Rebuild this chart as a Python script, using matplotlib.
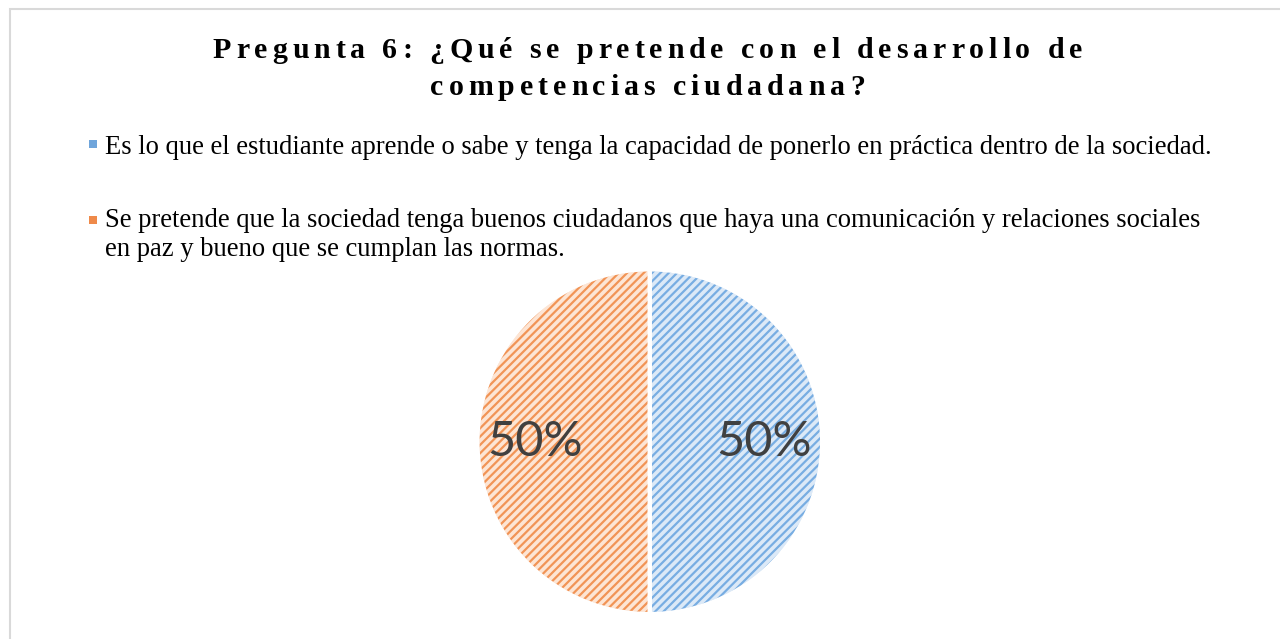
import matplotlib
matplotlib.use("Agg")
import matplotlib.pyplot as plt
from matplotlib.patches import Rectangle

W, H = 1280, 639
DPI = 100

title_lines = ["Pregunta 6: ¿Qué se pretende con el desarrollo de",
               "competencias ciudadana?"]
categories = [
    "Es lo que el estudiante aprende o sabe y tenga la capacidad de ponerlo en práctica dentro de la sociedad.",
    "Se pretende que la sociedad tenga buenos ciudadanos que haya una comunicación y relaciones sociales\nen paz y bueno que se cumplan las normas.",
]
values = [50, 50]
hatch_colors = ["#78ade2", "#f19456"]
marker_colors = ["#6fa5db", "#ef8a4a"]
fill_colors = ["#dce9f7", "#fde5d4"]
rim_colors = ["#8cb9e6", "#f3a775"]

plt.rcParams["hatch.linewidth"] = 1.6

fig = plt.figure(figsize=(W / DPI, H / DPI), dpi=DPI)
fig.patch.set_facecolor("white")

def fx(px):
    return px / W

def fy(py):
    return 1 - py / H

# border
fig.add_artist(Rectangle((fx(9.5), fy(700)), fx(1400), (700 - 9) / H,
                         transform=fig.transFigure, fill=False,
                         edgecolor="#d9d9d9", linewidth=1.5))

# pie
cx, cy, r = 649.8, 441.7, 172.3
ax = fig.add_axes([fx(cx - r), fy(cy + r), 2 * r / W, 2 * r / H])
wedges, _, autotexts = ax.pie(values, colors=fill_colors, startangle=90,
                              counterclock=False, autopct="%1.0f%%",
                              pctdistance=0.665,
                              wedgeprops=dict(linewidth=0),
                              textprops=dict(fontsize=35, color="#404040",
                                             family="Lato"))
for w, hc in zip(wedges, hatch_colors):
    w.set_hatch("////")
    w.set_edgecolor(hc)
    w.set_linewidth(0)
for t in autotexts:
    t.set_zorder(5)
# soft rim
rims, _ = ax.pie(values, colors=["none", "none"], startangle=90, counterclock=False,
                 radius=0.995, wedgeprops=dict(linewidth=1.5, fill=False))
for rw, rc in zip(rims, rim_colors):
    rw.set_edgecolor(rc)
    rw.set_alpha(0.7)
# white separators
ax.pie(values, colors=["none", "none"], startangle=90, counterclock=False,
       wedgeprops=dict(linewidth=3, edgecolor="white", fill=False))
ax.set_xlim(-1, 1)
ax.set_ylim(-1, 1)
ax.set_aspect("equal")
ax.axis("off")

# title with letter spacing
renderer = fig.canvas.get_renderer()
title_fs = 21.5
spacing = [4.9, 4.9]
baselines = [58, 95]
for line, base, sp in zip(title_lines, baselines, spacing):
    widths = []
    for ch in line:
        t = fig.text(0, 0, ch if ch != " " else "\u00a0", fontsize=title_fs,
                     family="Liberation Serif", fontweight="bold")
        bb = t.get_window_extent(renderer)
        widths.append(bb.width)
        t.remove()
    total = sum(widths) + sp * (len(line) - 1)
    x = 647.5 - total / 2
    for ch, wdt in zip(line, widths):
        if ch != " ":
            fig.text(fx(x), fy(base), ch, fontsize=title_fs,
                     family="Liberation Serif", fontweight="bold",
                     color="black", va="baseline", ha="left")
        x += wdt + sp

# legend
leg_fs = 19.2
leg_baselines = [154, 227]
leg_marker_y = [144, 220]
line_step = 29
for lab, base, my, mc in zip(categories, leg_baselines, leg_marker_y, marker_colors):
    fig.add_artist(Rectangle((fx(88.5), fy(my + 4)), 8 / W, 8 / H,
                             transform=fig.transFigure, facecolor=mc,
                             edgecolor="none"))
    for i, sub in enumerate(lab.split("\n")):
        fig.text(fx(105), fy(base + i * line_step), sub, fontsize=leg_fs,
                 family="Liberation Serif", color="black",
                 va="baseline", ha="left")

fig.savefig("out.png", dpi=DPI, facecolor="white")
